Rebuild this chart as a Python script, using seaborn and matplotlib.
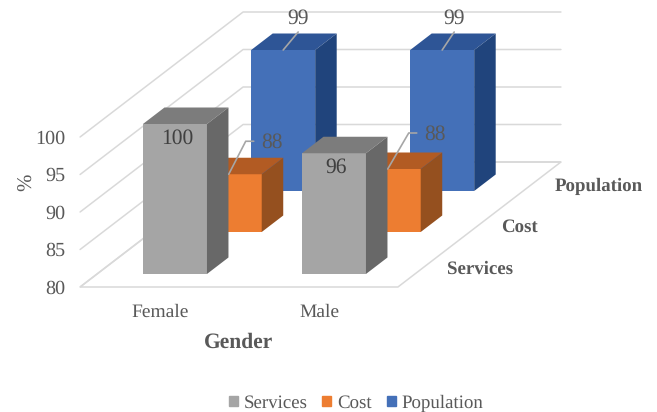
import matplotlib

import matplotlib.pyplot as plt
import pandas as pd
import seaborn as sns
from matplotlib.patches import Patch, Polygon

matplotlib.use('Agg')

# Values
genders = ['Female', 'Male']
services = [100.0, 96.1]
cost = [87.7, 88.4]
population = [98.8, 98.8]
value_ticks = [80, 85, 90, 95, 100]

# name, values, front / top / side colour, depth of the front face
series = [
    ('Population', population, '#4470b8', '#2e5596', '#20447c', 0.768),
    ('Cost', cost, '#ed7d31', '#b25b23', '#95501f', 0.44),
    ('Services', services, '#a5a5a5', '#7c7c7c', '#686868', 0.104),
]

# Oblique projection: one gender = 159 px, one percent = 7.5 px
PX_X = 159
PX_Y = 7.5
DEPTH_X = 163 / PX_X
DEPTH_Y = 125 / PX_Y
BAR_W = 64 / PX_X
BAR_D = 0.132
FLOOR = 80
LEFT, RIGHT = -0.49, 1.509
GRID = '#d9d9d9'
TEXT = '#595959'
LEADER = '#a6a6a6'


def project(g, depth, value):
    return g + DEPTH_X * depth, value + DEPTH_Y * depth


def shift(xy, dx, dy):
    # move a point by a distance in pixels
    return xy[0] + dx / PX_X, xy[1] + dy / PX_Y


sns.set_theme(style='white')
plt.rcParams['font.family'] = ['Liberation Serif', 'DejaVu Serif']
plt.rcParams['text.hinting'] = 'no_hinting'

fig, ax = plt.subplots(figsize=(6.57, 4.12), dpi=100)
ax.set_position([0, 0, 1, 1])

# Walls and floor
ax.add_patch(Polygon([project(LEFT, 0, FLOOR), project(RIGHT, 0, FLOOR),
                      project(RIGHT, 1, FLOOR), project(LEFT, 1, FLOOR)],
                     facecolor='white', edgecolor=GRID, lw=1.1, zorder=0.5))
for v in value_ticks:
    a = project(LEFT, 0, v)
    b = project(LEFT, 1, v)
    c = project(RIGHT, 1, v)
    ax.plot([a[0], b[0], c[0]], [a[1], b[1], c[1]], color=GRID, lw=1.1, zorder=0.6)
    ax.text(*shift(a, -15, -1.5), str(v), ha='right', va='center', fontsize=14.5, color=TEXT)

# Bars, from the back to the front
for name, values, front, top, side, depth in series:
    xs = [project(i, depth, 0)[0] for i in range(len(genders))]
    df = pd.DataFrame({'x': xs, 'height': [v - FLOOR for v in values]})
    sns.barplot(data=df, x='x', y='height', native_scale=True, width=BAR_W, color=front,
                saturation=1, errorbar=None, bottom=FLOOR + DEPTH_Y * depth, linewidth=0, ax=ax)
    for i, v in enumerate(values):
        l, r = i - BAR_W / 2, i + BAR_W / 2
        ax.add_patch(Polygon([project(l, depth, v), project(r, depth, v),
                              project(r, depth + BAR_D, v), project(l, depth + BAR_D, v)],
                             facecolor=top, edgecolor='none'))
        ax.add_patch(Polygon([project(r, depth, FLOOR), project(r, depth + BAR_D, FLOOR),
                              project(r, depth + BAR_D, v), project(r, depth, v)],
                             facecolor=side, edgecolor='none'))

# Data labels, Services sit inside the bars, the others get a leader line
for i, v in enumerate(services):
    pos = shift(project(i, 0.104, v), 2, -14)
    ax.text(*pos, f'{v:.0f}', ha='center', va='center', fontsize=15.5, color='#404040')

for i, v in enumerate(population):
    start = project(i, 0.768, v)
    mid = shift(start, 15 - 3 * i, 18)
    ax.plot([start[0], mid[0]], [start[1], mid[1]], color=LEADER, lw=1.2)
    ax.text(*shift(mid, 0, 14), f'{v:.0f}', ha='center', va='center', fontsize=15.5, color=TEXT)

leader_dx = [17, 21]
leader_dy = [33, 36]
for i, v in enumerate(cost):
    start = shift(project(i - BAR_W / 2, 0.44, v), 31, 0)
    elbow = shift(start, leader_dx[i], leader_dy[i])
    end = shift(elbow, 8, 0)
    ax.plot([start[0], elbow[0], end[0]], [start[1], elbow[1], end[1]], color=LEADER, lw=1.2)
    ax.text(*shift(end, 18, -1.5), f'{v:.0f}', ha='center', va='center', fontsize=15.5, color=TEXT)

# Category labels
for i, g in enumerate(genders):
    ax.text(*shift(project(i, 0, FLOOR), 2, -25), g, ha='center', va='center', fontsize=14, color=TEXT)
for name, values, front, top, side, depth in series:
    pos = shift(project(RIGHT, depth + BAR_D / 2, FLOOR), 21, -3.5)
    ax.text(*pos, name, ha='left', va='center', fontsize=13.6, fontweight='bold', color=TEXT)

ax.text(*shift(project(0.5, 0, FLOOR), 1, -55), 'Gender', ha='center', va='center',
        fontsize=15.5, fontweight='bold', color=TEXT)
ax.text(*shift(project(LEFT, 0, 90), -53, 30), '%', rotation=90, ha='center', va='center',
        fontsize=15, color=TEXT)

handles = [Patch(color=s[2], label=s[0]) for s in reversed(series)]
fig.legend(handles=handles, loc='center', bbox_to_anchor=(356 / 657, 1 - 403 / 412), ncol=3,
           frameon=False, fontsize=13.6, handlelength=0.48, handleheight=0.48,
           handletextpad=0.3, columnspacing=0.8, labelcolor=TEXT)

ax.set_xlim(-158 / PX_X, (657 - 158) / PX_X)
ax.set_ylim(FLOOR - 125 / PX_Y, FLOOR + 287 / PX_Y)
ax.axis('off')

plt.savefig('out.png', dpi=100)
